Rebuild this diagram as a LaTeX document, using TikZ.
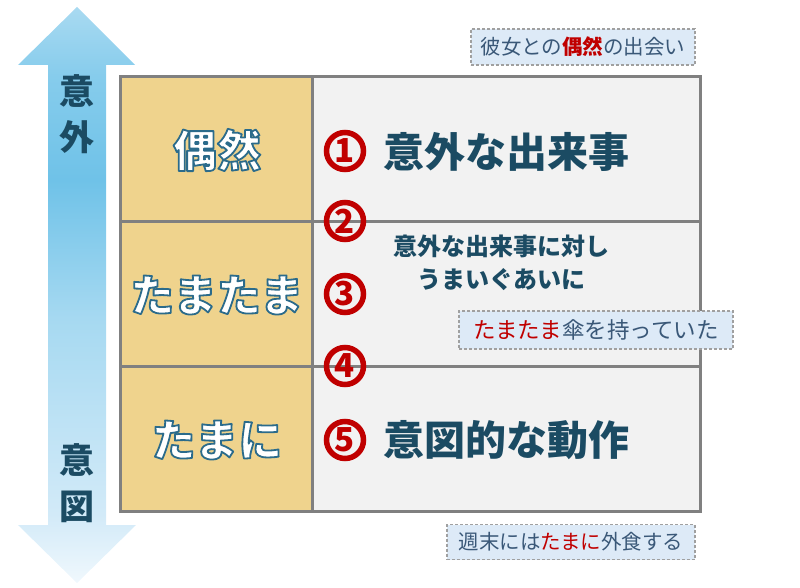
\documentclass[tikz,border=0pt]{standalone}
\usepackage{fontspec}
\setmainfont{Noto Sans CJK JP}
\definecolor{arrowlow}{HTML}{F0F8FD}
\definecolor{arrowpale}{HTML}{D2EAF8}
\definecolor{arrowmid}{HTML}{A6D9F1}
\definecolor{arrowdeep}{HTML}{6FC2E8}
\definecolor{arrowtop}{HTML}{86CCEC}
\definecolor{arrowtip}{HTML}{A9DAF1}
\definecolor{tealtext}{HTML}{1B4B63}
\definecolor{numred}{HTML}{C00000}
\definecolor{gridgray}{HTML}{808080}
\definecolor{leftfill}{HTML}{EFD38D}
\definecolor{rightfill}{HTML}{F2F2F2}
\definecolor{notefill}{HTML}{DDEAF7}
\definecolor{notetext}{HTML}{3A5878}
\definecolor{notegray}{HTML}{A0A0A0}
\pgfdeclareverticalshading{axisshade}{100bp}{color(0bp)=(arrowlow); color(25bp)=(arrowlow); color(31bp)=(arrowpale); color(48bp)=(arrowmid); color(60bp)=(arrowdeep); color(69bp)=(arrowtop); color(75bp)=(arrowtip); color(100bp)=(arrowtip)}
% white letters with a thin blue rim (fill, then stroke)
\newcommand{\rimtext}[1]{\special{pdf:literal direct 2 Tr 1.8 w 1 j 0.169 0.42 0.545 RG}#1\special{pdf:literal direct 0 Tr 0.4 w 0 0 0 RG}}
\newcommand{\hl}[1]{\textcolor{numred}{#1}}

\begin{document}
\begin{tikzpicture}[x=1pt,y=-1pt,
	tablegrid/.style={draw=gridgray,line width=3pt},
	axislabel/.style={text=tealtext,font=\bfseries\fontsize{35}{35}\selectfont},
	kindlabel/.style={text=white,font=\bfseries\fontsize{44}{44}\selectfont},
	numlabel/.style={circle,draw=numred,line width=5.5pt,minimum size=37,inner sep=0pt,text=numred,font=\bfseries\fontsize{33}{33}\selectfont},
	biglabel/.style={text=tealtext,font=\bfseries\fontsize{41}{41}\selectfont,anchor=west,inner sep=0pt},
	notebox/.style={draw=notegray,fill=notefill,line width=1.2pt,dash pattern=on 3pt off 2pt,text=notetext,inner sep=0pt}]
	\useasboundingbox (0,0) rectangle (800,588);
	% axis arrow
	\shade[shading=axisshade] (77,7) -- (135,65) -- (106,65) -- (106,525) -- (136,525) -- (77,583) -- (18,525) -- (48,525) -- (48,65) -- (18,65) -- cycle;
	\node[axislabel] (a1) at (77,91) {意};
	\node[axislabel] (a2) at (77,137) {外};
	\node[axislabel] (a3) at (77,460) {意};
	\node[axislabel] (a4) at (77,507) {図};
	% table
	\draw[tablegrid,fill=leftfill] (120,77) rectangle (312,511);
	\draw[tablegrid,fill=rightfill] (312,77) rectangle (700,511);
	\draw[tablegrid] (120,221) -- (700,221);
	\draw[tablegrid] (120,366) -- (700,366);
	\node[numlabel] (n1) at (345,151) {1};
	\node[numlabel] (n2) at (345,221) {2};
	\node[numlabel] (n3) at (345,294) {3};
	\node[numlabel] (n4) at (345,366) {4};
	\node[numlabel] (n5) at (345,440) {5};
	\node[biglabel] (t1) at (383,152) {意外な出来事};
	\node[biglabel] (t5) at (383,440) {意図的な動作};
	\node[text=tealtext,align=center,font=\bfseries\fontsize{24}{33}\selectfont] (t3) at (501,263) {意外な出来事に対し\\うまいぐあいに};
	% notes
	\node[notebox,minimum width=224,minimum height=36,font=\fontsize{20.5}{20.5}\selectfont] (e1) at (583,47) {彼女との\hl{\bfseries 偶然}の出会い};
	\node[notebox,minimum width=274,minimum height=38,font=\fontsize{22.5}{22.5}\selectfont] (e3) at (596,330) {\hl{たまたま}傘を持っていた};
	\node[notebox,minimum width=248,minimum height=35,font=\fontsize{20.5}{20.5}\selectfont] (e5) at (571,542) {週末には\hl{たまに}外食する};
	% row names
	\node[kindlabel] (k1) at (217,150) {\rimtext{偶然}};
	\node[kindlabel] (k2) at (217,295) {\rimtext{たまたま}};
	\node[kindlabel] (k3) at (217,440) {\rimtext{たまに}};
\end{tikzpicture}
\end{document}
